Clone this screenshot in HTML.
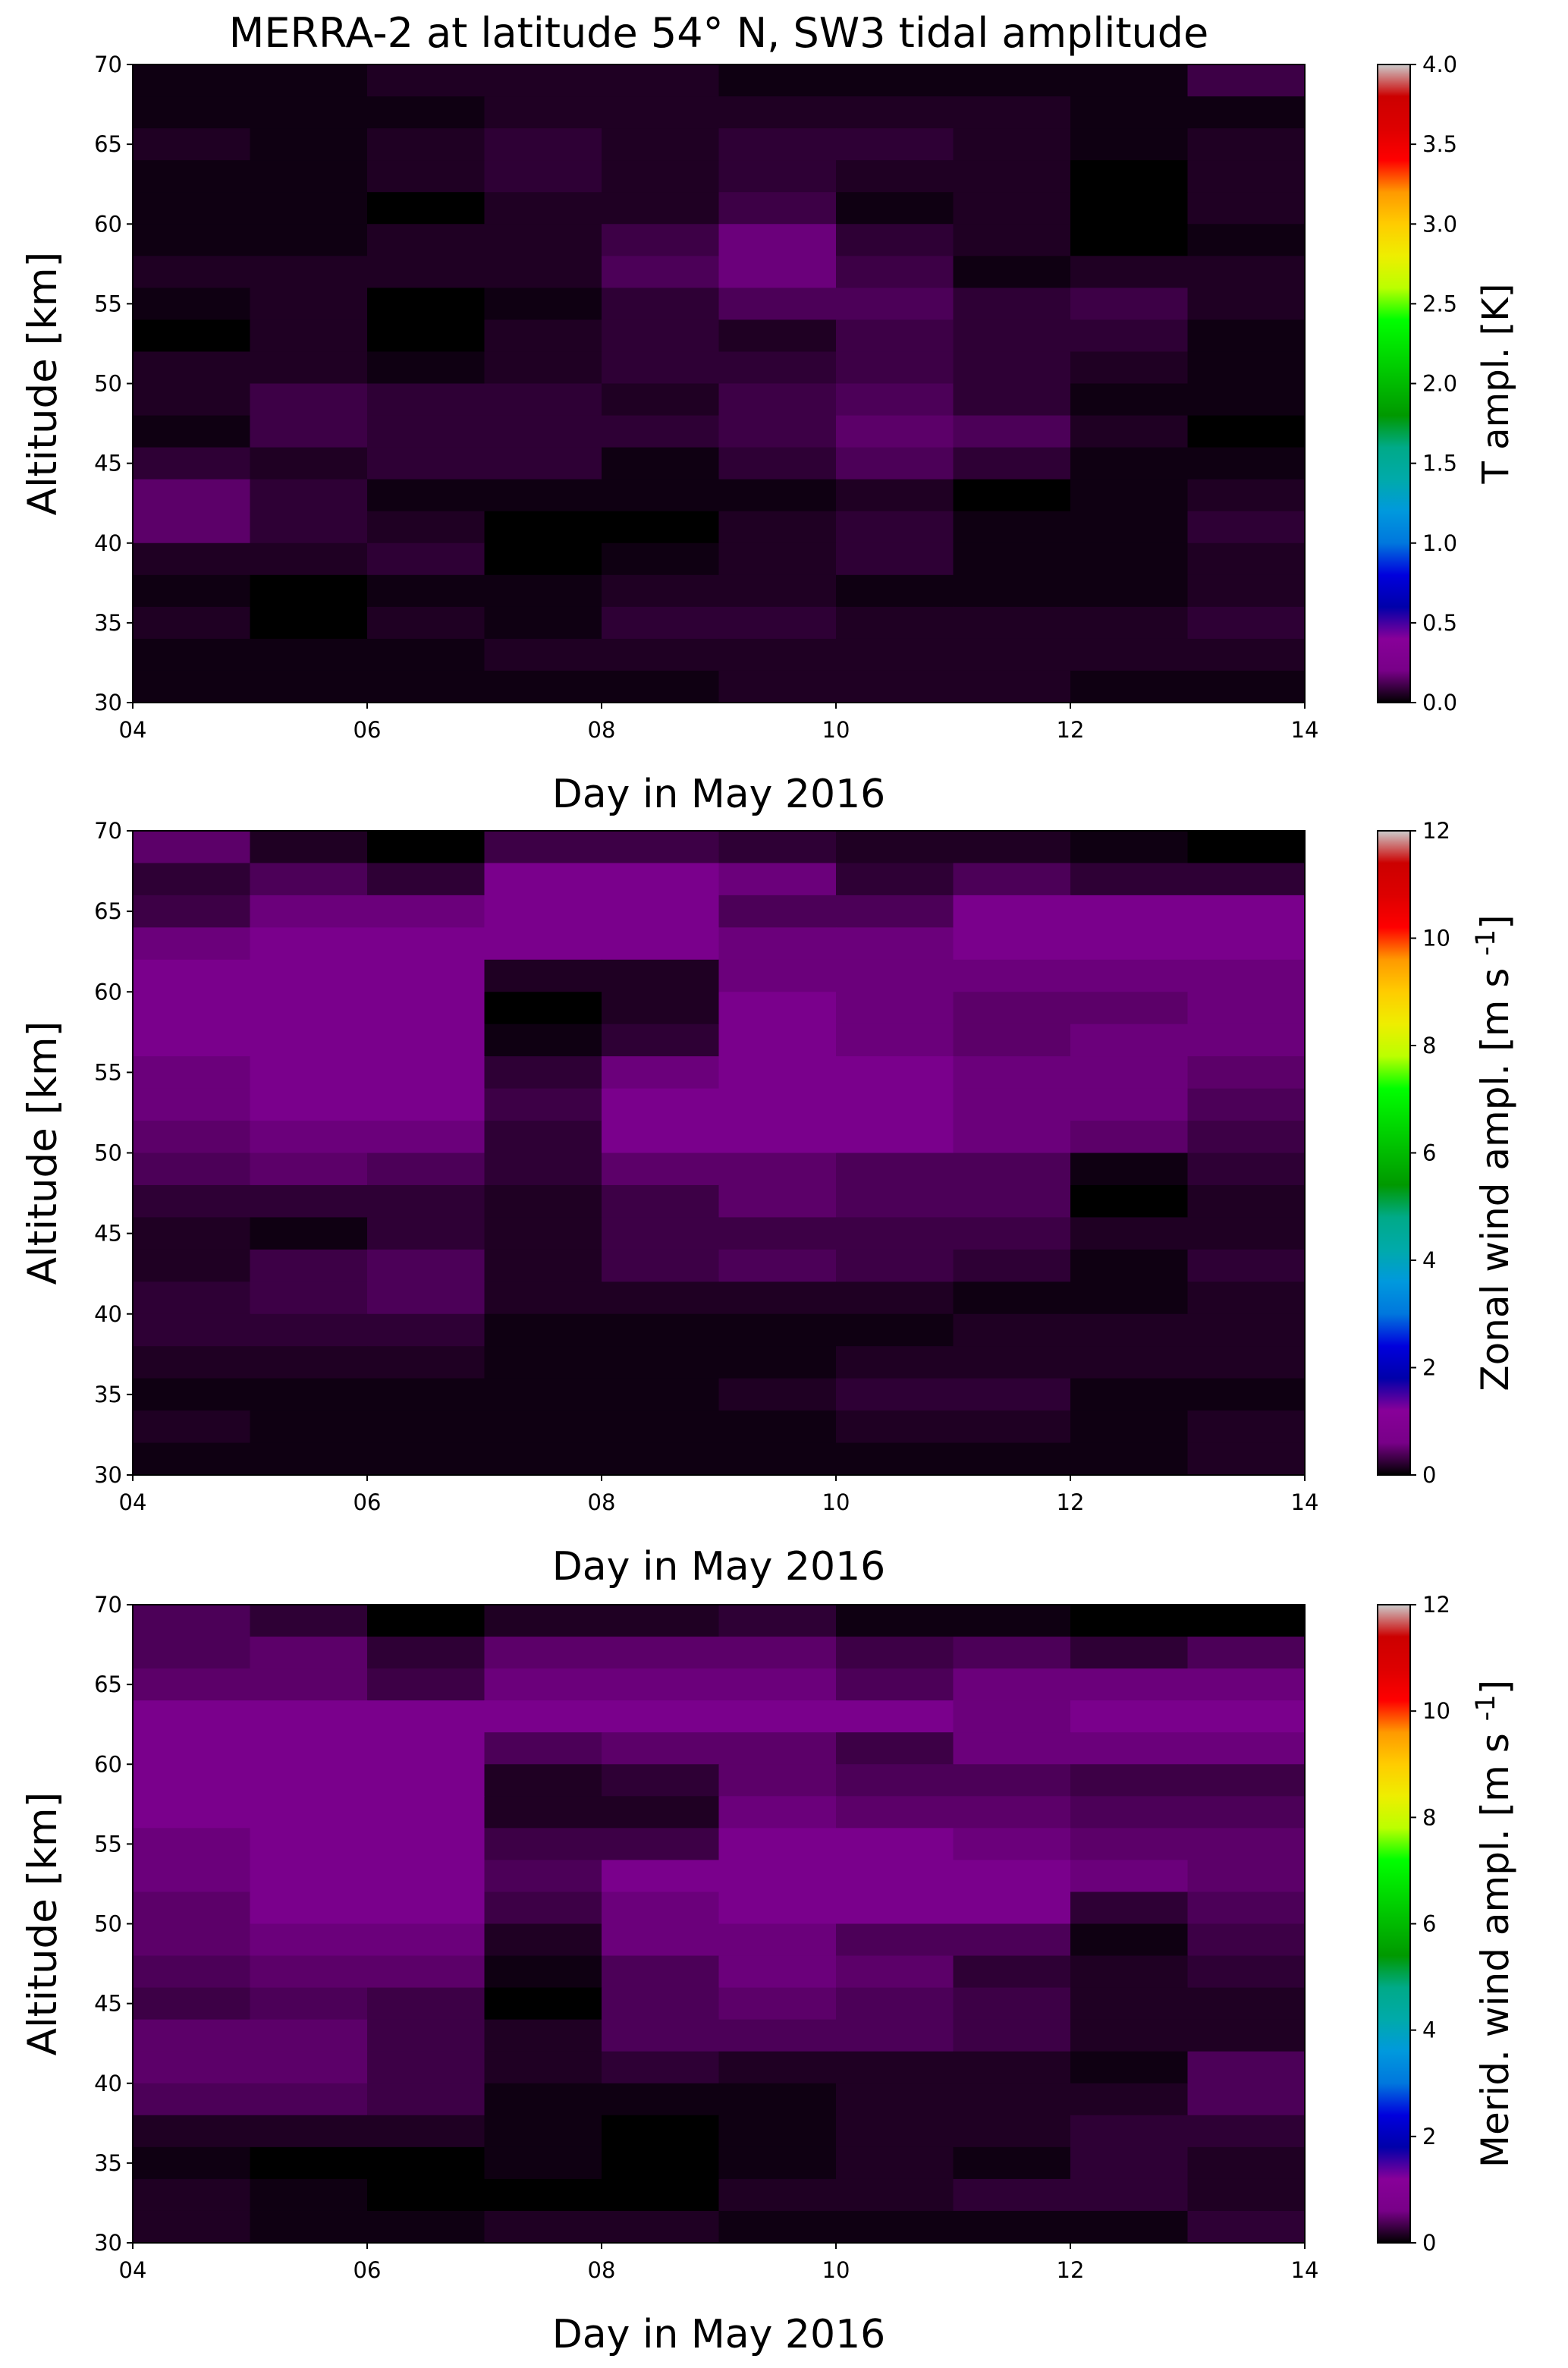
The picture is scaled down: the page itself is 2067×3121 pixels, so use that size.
<!DOCTYPE html>
<html><head><meta charset="utf-8"><style>body{margin:0;background:#fff}svg{display:block}text{font-family:"DejaVu Sans","Liberation Sans",sans-serif;fill:#000}</style></head>
<body>
<svg id="s" width="2067" height="3121" xmlns="http://www.w3.org/2000/svg"></svg>
<script>
var P=[
{y0:85,y1:926,max:4,step:0.5,dec:1,label:'T ampl. [K]',sup:false,d:[
"1122211114","1112222211","2123233212","1123232202","1102241202","1122473201","2222574122","1201355342","0202324331","2212334321","2433245311","1433346520","3233135311","6311112012","6320023113","2230123112","1011221112","2021332223","1112222222","1111122211"]},
{y0:1095,y1:1944,max:12,step:2,dec:0,label:'Zonal wind ampl. [m s',sup:true,d:[
"6204432210","3538873533","4778855888","7888877888","8882277777","8880287667","8881387677","7883788776","7884888775","6773888764","5653665513","3332465502","2132444422","2452454313","3452222112","3331111222","2221112222","1111123311","2111112212","1111111112"]},
{y0:2115,y1:2956,max:12,step:2,dec:0,label:'Merid. wind ampl. [m s',sup:true,d:[
"5302231100","5636664535","6647775777","8888888788","8885664777","8882365544","8882276655","7884488766","7885888876","6884788835","6772775514","5661576323","4540565422","6642555422","6642322215","5541112225","2221012233","1001012132","2100022332","2112211113"]}
];
var x0=175,x1=1720,cx0=1816,cx1=1859,h='';
function col(d){var f=d/8;return 'rgb('+Math.round(122*f)+',0,'+Math.round(140*f)+')';}
h+='<text x="'+((x0+x1)/2)+'" y="62" font-size="54" text-anchor="middle">MERRA-2 at latitude 54° N, SW3 tidal amplitude</text>';
P.forEach(function(p){
 var W=(x1-x0)/10,H=(p.y1-p.y0)/20;
 for(var r=0;r<20;r++)for(var c=0;c<10;c++){
  h+='<rect x="'+(x0+c*W)+'" y="'+(p.y0+r*H)+'" width="'+(W+0.6)+'" height="'+(H+0.6)+'" fill="'+col(+p.d[r][c])+'"/>';}
 h+='<rect x="'+x0+'" y="'+p.y0+'" width="'+(x1-x0)+'" height="'+(p.y1-p.y0)+'" fill="none" stroke="#000" stroke-width="2"/>';
 for(var i=0;i<=5;i++){var x=x0+i*(x1-x0)/5;h+='<line x1="'+x+'" x2="'+x+'" y1="'+p.y1+'" y2="'+(p.y1+8)+'" stroke="#000" stroke-width="2"/><text x="'+x+'" y="'+(p.y1+46)+'" font-size="29" text-anchor="middle">'+('0'+(4+2*i)).slice(-2)+'</text>';}
 for(var i=0;i<=8;i++){var y=p.y1-i*(p.y1-p.y0)/8;h+='<line x1="'+(x0-8)+'" x2="'+x0+'" y1="'+y+'" y2="'+y+'" stroke="#000" stroke-width="2"/><text x="'+(x0-14)+'" y="'+(y+10)+'" font-size="29" text-anchor="end">'+(30+5*i)+'</text>';}
 h+='<text x="'+((x0+x1)/2)+'" y="'+(p.y1+138)+'" font-size="52" text-anchor="middle">Day in May 2016</text>';
 var my=(p.y0+p.y1)/2;h+='<text transform="translate(74,'+my+') rotate(-90)" font-size="53" text-anchor="middle">Altitude [km]</text>';
 var id='g'+p.y0;
 h+='<defs><linearGradient id="'+id+'" x1="0" y1="1" x2="0" y2="0">';
 var st=[[0,'#000'],[.05,'#780088'],[.1,'#880099'],[.15,'#0000aa'],[.2,'#0000dd'],[.25,'#0077dd'],[.3,'#0099dd'],[.35,'#00aaaa'],[.4,'#00aa88'],[.45,'#009900'],[.5,'#00bb00'],[.55,'#00dd00'],[.6,'#00ff00'],[.65,'#bbff00'],[.7,'#eeee00'],[.75,'#ffcc00'],[.8,'#ff9900'],[.85,'#ff0000'],[.9,'#dd0000'],[.95,'#cc0000'],[1,'#cccccc']];
 st.forEach(function(s){h+='<stop offset="'+s[0]+'" stop-color="'+s[1]+'"/>';});
 h+='</linearGradient></defs><rect x="'+cx0+'" y="'+p.y0+'" width="'+(cx1-cx0)+'" height="'+(p.y1-p.y0)+'" fill="url(#'+id+')" stroke="#000" stroke-width="2"/>';
 var n=Math.round(p.max/p.step);
 for(var i=0;i<=n;i++){var y=p.y1-i*(p.y1-p.y0)/n;h+='<line x1="'+cx1+'" x2="'+(cx1+8)+'" y1="'+y+'" y2="'+y+'" stroke="#000" stroke-width="2"/><text x="'+(cx1+16)+'" y="'+(y+10)+'" font-size="29">'+(i*p.step).toFixed(p.dec)+'</text>';}
 h+='<text transform="translate(1988,'+my+') rotate(-90)" font-size="'+(p.sup?50:48)+'" text-anchor="middle">'+p.label+(p.sup?' <tspan dy="-18" font-size="35">-1</tspan><tspan dy="18">]</tspan>':'')+'</text>';
});
document.getElementById('s').innerHTML=h;
</script>
</body></html>
